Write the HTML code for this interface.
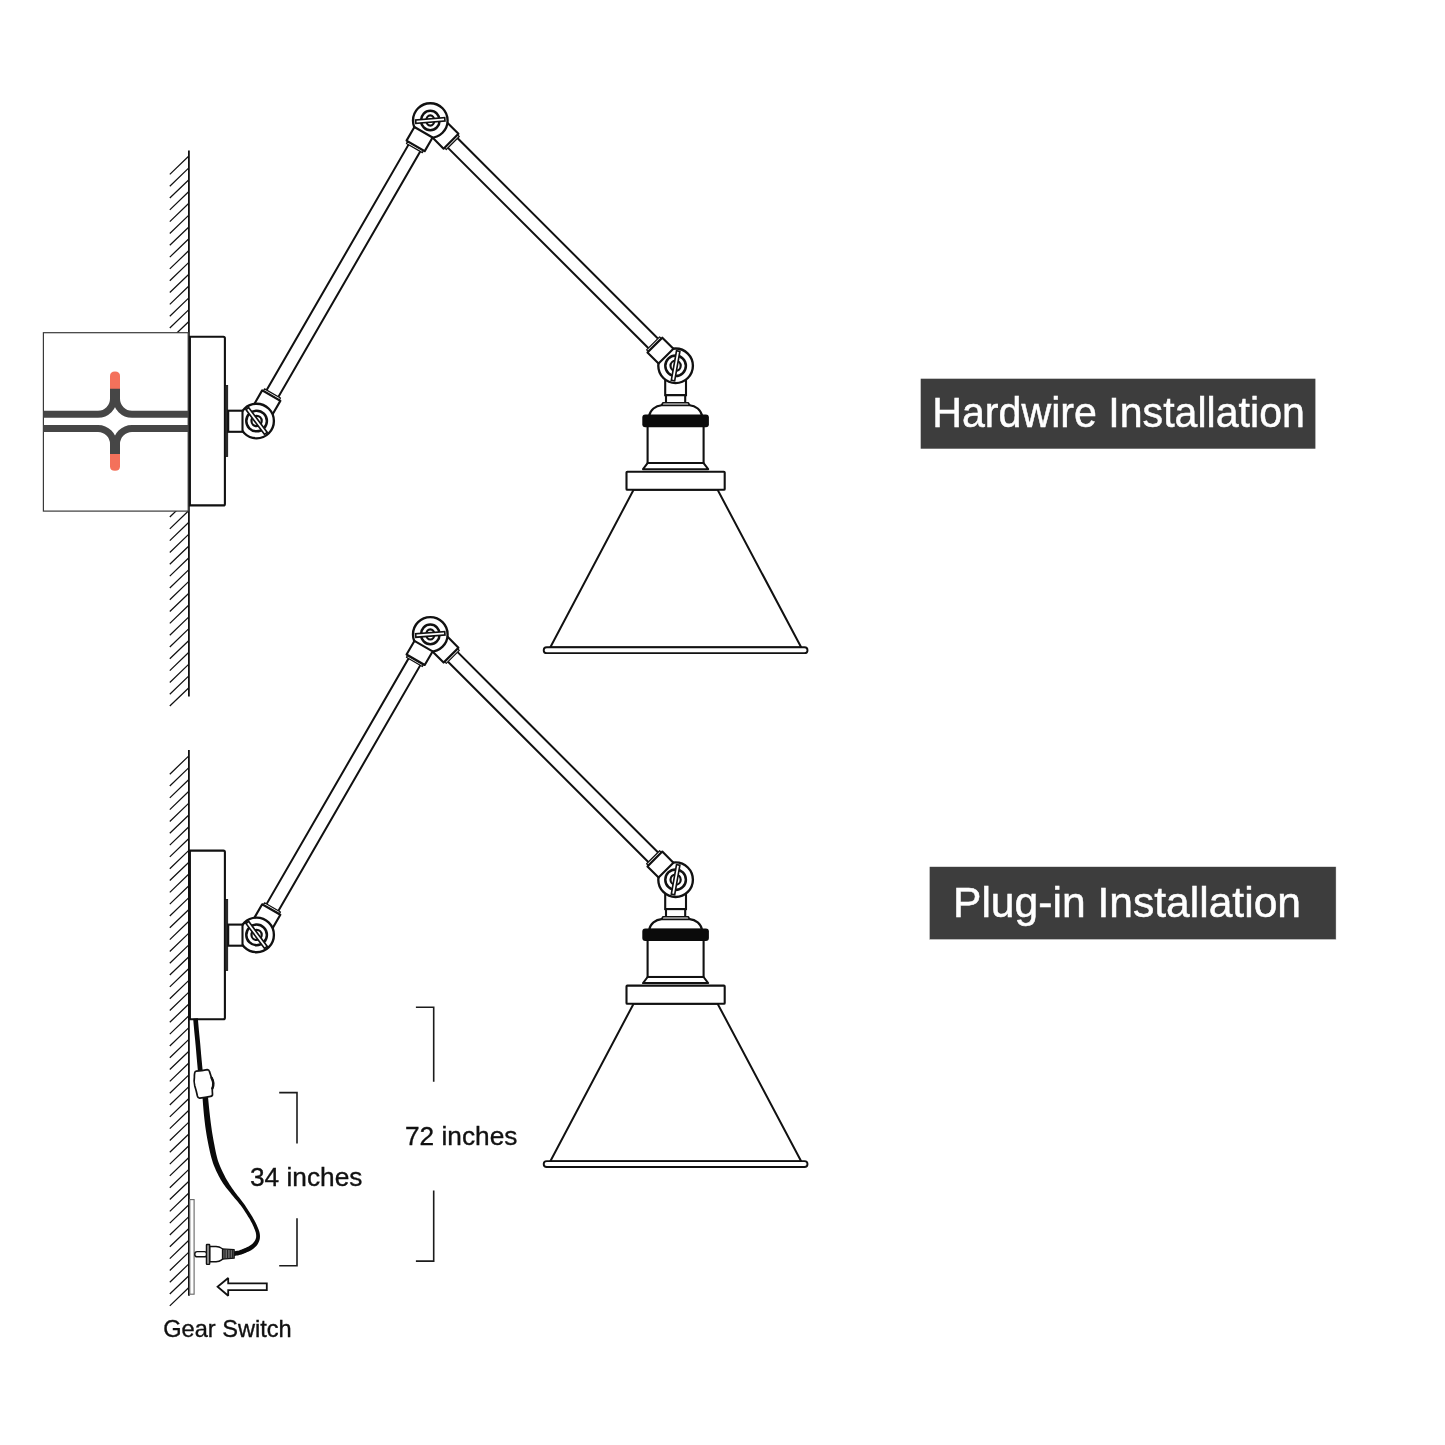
<!DOCTYPE html>
<html lang="en"><head><meta charset="utf-8"><title>Installation diagram</title>
<style>html,body{margin:0;padding:0;background:#fff}body{width:1445px;height:1445px;overflow:hidden}svg{display:block;will-change:transform}text{font-family:"Liberation Sans",sans-serif}</style>
</head><body>
<svg width="1445" height="1445" viewBox="0 0 1445 1445">
<rect width="1445" height="1445" fill="#fff"/>
<g stroke="#111" stroke-linecap="butt">
<path d="M188.6 156.3L169.8 174.4M188.6 168.12L169.8 186.22M188.6 179.93L169.8 198.03M188.6 191.75L169.8 209.84M188.6 203.56L169.8 221.66M188.6 215.38L169.8 233.47M188.6 227.19L169.8 245.29M188.6 239L169.8 257.11M188.6 250.82L169.8 268.92M188.6 262.63L169.8 280.74M188.6 274.45L169.8 292.55M188.6 286.26L169.8 304.37M188.6 298.08L169.8 316.18M188.6 309.89L169.8 328M188.6 321.71L169.8 339.81M188.6 333.52L169.8 351.62M188.6 345.34L169.8 363.44M188.6 357.15L169.8 375.25M188.6 368.97L169.8 387.07M188.6 380.78L169.8 398.88M188.6 392.6L169.8 410.7M188.6 404.41L169.8 422.51M188.6 416.23L169.8 434.33M188.6 428.05L169.8 446.15M188.6 439.86L169.8 457.96M188.6 451.68L169.8 469.78M188.6 463.49L169.8 481.59M188.6 475.31L169.8 493.41M188.6 487.12L169.8 505.22M188.6 498.94L169.8 517.03M188.6 510.75L169.8 528.85M188.6 522.57L169.8 540.67M188.6 534.38L169.8 552.48M188.6 546.19L169.8 564.29M188.6 558.01L169.8 576.11M188.6 569.83L169.8 587.93M188.6 581.64L169.8 599.74M188.6 593.45L169.8 611.55M188.6 605.27L169.8 623.37M188.6 617.09L169.8 635.19M188.6 628.9L169.8 647M188.6 640.71L169.8 658.81M188.6 652.53L169.8 670.63M188.6 664.35L169.8 682.45M188.6 676.16L169.8 694.26M188.6 687.97L169.8 706.07" stroke-width="1.25" fill="none"/>
<line x1="188.9" y1="150.5" x2="188.9" y2="696.4" stroke-width="1.8"/>
</g>
<g stroke="#111" stroke-linecap="butt">
<path d="M188.6 756.1L169.8 774.2M188.6 767.92L169.8 786.02M188.6 779.73L169.8 797.83M188.6 791.55L169.8 809.65M188.6 803.36L169.8 821.46M188.6 815.18L169.8 833.28M188.6 826.99L169.8 845.09M188.6 838.81L169.8 856.91M188.6 850.62L169.8 868.72M188.6 862.44L169.8 880.54M188.6 874.25L169.8 892.35M188.6 886.07L169.8 904.17M188.6 897.88L169.8 915.98M188.6 909.7L169.8 927.8M188.6 921.51L169.8 939.61M188.6 933.33L169.8 951.43M188.6 945.14L169.8 963.24M188.6 956.96L169.8 975.06M188.6 968.77L169.8 986.87M188.6 980.59L169.8 998.69M188.6 992.4L169.8 1010.5M188.6 1004.22L169.8 1022.32M188.6 1016.03L169.8 1034.13M188.6 1027.85L169.8 1045.94M188.6 1039.66L169.8 1057.76M188.6 1051.47L169.8 1069.57M188.6 1063.29L169.8 1081.39M188.6 1075.11L169.8 1093.2M188.6 1086.92L169.8 1105.02M188.6 1098.74L169.8 1116.84M188.6 1110.55L169.8 1128.65M188.6 1122.37L169.8 1140.46M188.6 1134.18L169.8 1152.28M188.6 1145.99L169.8 1164.09M188.6 1157.81L169.8 1175.91M188.6 1169.62L169.8 1187.72M188.6 1181.44L169.8 1199.54M188.6 1193.26L169.8 1211.36M188.6 1205.07L169.8 1223.17M188.6 1216.88L169.8 1234.98M188.6 1228.7L169.8 1246.8M188.6 1240.51L169.8 1258.61M188.6 1252.33L169.8 1270.43M188.6 1264.14L169.8 1282.24M188.6 1275.96L169.8 1294.06M188.6 1287.78L169.8 1305.88" stroke-width="1.25" fill="none"/>
<line x1="188.9" y1="750.1" x2="188.9" y2="1295.7" stroke-width="1.8"/>
</g>
<rect x="43.4" y="332.7" width="144.8" height="178.4" fill="#fff" stroke="#3a3a3a" stroke-width="1.2"/>
<g fill="none" stroke="#464646" stroke-width="7">
<path d="M43.4 414.3H98A15.5 15.5 0 0 0 113.5 398.8V386"/>
<path d="M188 414.3H132A15.5 15.5 0 0 1 116.5 398.8V386"/>
<path d="M43.4 428.4H98A15.5 15.5 0 0 1 113.5 443.9V457"/>
<path d="M188 428.4H132A15.5 15.5 0 0 0 116.5 443.9V457"/>
</g>
<path d="M110 388.8V376Q110 371.5 115 371.5Q120 371.5 120 376V388.8Z" fill="#f4715b"/>
<path d="M110 454.1V466.2Q110 470.7 115 470.7Q120 470.7 120 466.2V454.1Z" fill="#f4715b"/>
<g>
<path d="M189.9 336.7 H223.4 Q224.9 336.7 224.9 338.2 V503.9 Q224.9 505.4 223.4 505.4 H189.9 Z" fill="#fff" stroke="#111" stroke-width="2.1"/>
<rect x="225" y="385.5" width="2.7" height="71" fill="#2b2b2b" stroke="#111" stroke-width="0.8"/>
<polygon points="277.9,397.74 420.77,150.57 409,143.76 266.13,390.93" fill="#fff" stroke="#111" stroke-width="2"/>
<polygon points="447.27,147.09 649.01,348.83 658.63,339.21 456.89,137.47" fill="#fff" stroke="#111" stroke-width="2"/>
<rect x="665.2" y="375" width="20.8" height="20.2" fill="#fff" stroke="#111" stroke-width="2.1"/>
<rect x="666" y="395.2" width="19.2" height="8" fill="#fff" stroke="#111" stroke-width="2.1"/>
<path d="M649.1 416 C650.1 410 655.6 405.6 661.6 405.2 H689.6 C695.6 405.6 701.1 410 702.1 416 Z" fill="#fff" stroke="#111" stroke-width="2.1"/>
<path d="M663 402.8 L661.4 405.3 H689.8 L688.2 402.8 Z" fill="#fff" stroke="#111" stroke-width="1.6" stroke-linejoin="round"/>
<rect x="647.6" y="424" width="56" height="39.1" fill="#fff" stroke="#111" stroke-width="2.1"/>
<path d="M647.6 463.1 L643 469.2 H708.2 L703.6 463.1 Z" fill="#fff" stroke="#111" stroke-width="2" stroke-linejoin="round"/>
<rect x="642.3" y="414.5" width="66.6" height="12.7" rx="3" fill="#0b0b0b"/>
<polygon points="633.6,489.8 717.6,489.8 801.3,647.6 550.2,647.6" fill="#fff" stroke="#111" stroke-width="2"/>
<rect x="626.5" y="471.75" width="98.2" height="18.05" rx="0.8" fill="#fff" stroke="#111" stroke-width="2.1"/>
<rect x="543.7" y="647.2" width="263.8" height="5.9" rx="3" fill="#fff" stroke="#111" stroke-width="1.9"/>
<polygon points="272.5,414.48 280.35,400.89 262.17,390.38 254.32,403.97" fill="#fff" stroke="#111" stroke-width="2.1" stroke-linejoin="round"/>
<polygon points="279.53,399.72 280.48,398.07 264.55,388.86 263.6,390.51" fill="#fff" stroke="#111" stroke-width="1.2" stroke-linejoin="round"/>
<circle cx="256.6" cy="421" r="17.3" fill="#fff" stroke="#111" stroke-width="2.35"/>
<ellipse cx="256.6" cy="421" rx="10.3" ry="10.3" fill="none" stroke="#111" stroke-width="2.5"/>
<ellipse cx="256.6" cy="421" rx="5.1" ry="5.1" fill="none" stroke="#111" stroke-width="2.2"/>
<rect x="241.1" y="419.3" width="31" height="3.4" fill="#fff" stroke="#111" stroke-width="1.65" transform="rotate(53.3 256.6 421)"/>
<rect x="228.2" y="410.7" width="14.3" height="21.1" fill="#fff" stroke="#111" stroke-width="2.1"/>
<polygon points="432.49,137.54 443.59,148.64 458.44,133.79 447.34,122.69" fill="#fff" stroke="#111" stroke-width="2.1" stroke-linejoin="round"/>
<polygon points="444.94,148.15 446.28,149.49 459.29,136.48 457.95,135.14" fill="#fff" stroke="#111" stroke-width="1.2" stroke-linejoin="round"/>
<circle cx="430.3" cy="120.5" r="17.3" fill="#fff" stroke="#111" stroke-width="2.35"/>
<ellipse cx="430.3" cy="120.5" rx="9.3" ry="9.8" fill="none" stroke="#111" stroke-width="2.5"/>
<ellipse cx="430.3" cy="120.5" rx="4" ry="5.1" fill="none" stroke="#111" stroke-width="2.2"/>
<rect x="415.7" y="118.8" width="29.2" height="3.4" fill="#fff" stroke="#111" stroke-width="1.65" transform="rotate(-4.5 430.3 120.5)"/>
<polygon points="414.4,127.02 406.55,140.61 424.73,151.12 432.58,137.53" fill="#fff" stroke="#111" stroke-width="2.1" stroke-linejoin="round"/>
<polygon points="407.37,141.78 406.42,143.43 422.35,152.64 423.3,150.99" fill="#fff" stroke="#111" stroke-width="1.2" stroke-linejoin="round"/>
<circle cx="675.6" cy="365.8" r="17.3" fill="#fff" stroke="#111" stroke-width="2.35"/>
<ellipse cx="675.6" cy="365.8" rx="10.3" ry="10.3" fill="none" stroke="#111" stroke-width="2.5"/>
<ellipse cx="675.6" cy="365.8" rx="5.1" ry="5.1" fill="none" stroke="#111" stroke-width="2.2"/>
<rect x="660.6" y="364.1" width="30" height="3.4" fill="#fff" stroke="#111" stroke-width="1.65" transform="rotate(-80 675.6 365.8)"/>
<polygon points="673.41,348.76 662.31,337.66 647.46,352.51 658.56,363.61" fill="#fff" stroke="#111" stroke-width="2.1" stroke-linejoin="round"/>
<polygon points="660.96,338.15 659.62,336.81 646.61,349.82 647.95,351.16" fill="#fff" stroke="#111" stroke-width="1.2" stroke-linejoin="round"/>
</g>
<g>
<path d="M189.9 850.6 H223.4 Q224.9 850.6 224.9 852.1 V1017.8 Q224.9 1019.3 223.4 1019.3 H189.9 Z" fill="#fff" stroke="#111" stroke-width="2.1"/>
<rect x="225" y="899.4" width="2.7" height="71" fill="#2b2b2b" stroke="#111" stroke-width="0.8"/>
<polygon points="277.9,911.64 420.77,664.47 409,657.66 266.13,904.83" fill="#fff" stroke="#111" stroke-width="2"/>
<polygon points="447.27,660.99 649.01,862.73 658.63,853.11 456.89,651.37" fill="#fff" stroke="#111" stroke-width="2"/>
<rect x="665.2" y="888.9" width="20.8" height="20.2" fill="#fff" stroke="#111" stroke-width="2.1"/>
<rect x="666" y="909.1" width="19.2" height="8" fill="#fff" stroke="#111" stroke-width="2.1"/>
<path d="M649.1 929.9 C650.1 923.9 655.6 919.5 661.6 919.1 H689.6 C695.6 919.5 701.1 923.9 702.1 929.9 Z" fill="#fff" stroke="#111" stroke-width="2.1"/>
<path d="M663 916.7 L661.4 919.2 H689.8 L688.2 916.7 Z" fill="#fff" stroke="#111" stroke-width="1.6" stroke-linejoin="round"/>
<rect x="647.6" y="937.9" width="56" height="39.1" fill="#fff" stroke="#111" stroke-width="2.1"/>
<path d="M647.6 977 L643 983.1 H708.2 L703.6 977 Z" fill="#fff" stroke="#111" stroke-width="2" stroke-linejoin="round"/>
<rect x="642.3" y="928.4" width="66.6" height="12.7" rx="3" fill="#0b0b0b"/>
<polygon points="633.6,1003.7 717.6,1003.7 801.3,1161.5 550.2,1161.5" fill="#fff" stroke="#111" stroke-width="2"/>
<rect x="626.5" y="985.65" width="98.2" height="18.05" rx="0.8" fill="#fff" stroke="#111" stroke-width="2.1"/>
<rect x="543.7" y="1161.1" width="263.8" height="5.9" rx="3" fill="#fff" stroke="#111" stroke-width="1.9"/>
<polygon points="272.5,928.38 280.35,914.79 262.17,904.28 254.32,917.87" fill="#fff" stroke="#111" stroke-width="2.1" stroke-linejoin="round"/>
<polygon points="279.53,913.62 280.48,911.97 264.55,902.76 263.6,904.41" fill="#fff" stroke="#111" stroke-width="1.2" stroke-linejoin="round"/>
<circle cx="256.6" cy="934.9" r="17.3" fill="#fff" stroke="#111" stroke-width="2.35"/>
<ellipse cx="256.6" cy="934.9" rx="10.3" ry="10.3" fill="none" stroke="#111" stroke-width="2.5"/>
<ellipse cx="256.6" cy="934.9" rx="5.1" ry="5.1" fill="none" stroke="#111" stroke-width="2.2"/>
<rect x="241.1" y="933.2" width="31" height="3.4" fill="#fff" stroke="#111" stroke-width="1.65" transform="rotate(53.3 256.6 934.9)"/>
<rect x="228.2" y="924.6" width="14.3" height="21.1" fill="#fff" stroke="#111" stroke-width="2.1"/>
<polygon points="432.49,651.44 443.59,662.54 458.44,647.69 447.34,636.59" fill="#fff" stroke="#111" stroke-width="2.1" stroke-linejoin="round"/>
<polygon points="444.94,662.05 446.28,663.39 459.29,650.38 457.95,649.04" fill="#fff" stroke="#111" stroke-width="1.2" stroke-linejoin="round"/>
<circle cx="430.3" cy="634.4" r="17.3" fill="#fff" stroke="#111" stroke-width="2.35"/>
<ellipse cx="430.3" cy="634.4" rx="9.3" ry="9.8" fill="none" stroke="#111" stroke-width="2.5"/>
<ellipse cx="430.3" cy="634.4" rx="4" ry="5.1" fill="none" stroke="#111" stroke-width="2.2"/>
<rect x="415.7" y="632.7" width="29.2" height="3.4" fill="#fff" stroke="#111" stroke-width="1.65" transform="rotate(-4.5 430.3 634.4)"/>
<polygon points="414.4,640.92 406.55,654.51 424.73,665.02 432.58,651.43" fill="#fff" stroke="#111" stroke-width="2.1" stroke-linejoin="round"/>
<polygon points="407.37,655.68 406.42,657.33 422.35,666.54 423.3,664.89" fill="#fff" stroke="#111" stroke-width="1.2" stroke-linejoin="round"/>
<circle cx="675.6" cy="879.7" r="17.3" fill="#fff" stroke="#111" stroke-width="2.35"/>
<ellipse cx="675.6" cy="879.7" rx="10.3" ry="10.3" fill="none" stroke="#111" stroke-width="2.5"/>
<ellipse cx="675.6" cy="879.7" rx="5.1" ry="5.1" fill="none" stroke="#111" stroke-width="2.2"/>
<rect x="660.6" y="878" width="30" height="3.4" fill="#fff" stroke="#111" stroke-width="1.65" transform="rotate(-80 675.6 879.7)"/>
<polygon points="673.41,862.66 662.31,851.56 647.46,866.41 658.56,877.51" fill="#fff" stroke="#111" stroke-width="2.1" stroke-linejoin="round"/>
<polygon points="660.96,852.05 659.62,850.71 646.61,863.72 647.95,865.06" fill="#fff" stroke="#111" stroke-width="1.2" stroke-linejoin="round"/>
</g>
<rect x="189.8" y="1199.6" width="4.3" height="94.6" fill="#fff" stroke="#666" stroke-width="1.1"/>
<path d="M193.16 1018.7L193.28 1020.07L193.44 1021.95L193.63 1024.19L193.84 1026.6L194.06 1029L194.26 1031.22L194.46 1033.26L194.65 1035.26L194.86 1037.25L195.06 1039.26L195.26 1041.3L195.46 1043.42L195.66 1045.6L195.85 1047.84L196.05 1050.12L196.25 1052.45L196.45 1054.82L196.66 1057.21L196.89 1059.82L197.15 1062.69L197.41 1065.58L197.65 1068.29L197.86 1070.58L198.01 1072.22L202.79 1071.78L202.63 1070.13L202.4 1067.84L202.14 1065.14L201.86 1062.25L201.58 1059.39L201.34 1056.79L201.13 1054.41L200.92 1052.05L200.73 1049.73L200.53 1047.44L200.34 1045.19L200.14 1042.98L199.94 1040.85L199.73 1038.79L199.53 1036.78L199.33 1034.8L199.13 1032.8L198.94 1030.78L198.74 1028.58L198.53 1026.19L198.32 1023.78L198.12 1021.55L197.96 1019.66L197.84 1018.3Z" fill="#0a0a0a"/>
<path d="M202.46 1096.74L202.59 1098.42L202.76 1100.74L202.96 1103.5L203.2 1106.5L203.45 1109.53L203.72 1112.4L203.99 1115.13L204.28 1117.91L204.59 1120.73L204.92 1123.56L205.29 1126.4L205.68 1129.23L206.11 1132.05L206.58 1134.9L207.07 1137.74L207.58 1140.55L208.11 1143.3L208.66 1145.97L209.21 1148.57L209.77 1151.14L210.35 1153.67L210.96 1156.13L211.6 1158.52L212.27 1160.8L212.96 1162.93L213.68 1164.92L214.42 1166.8L215.19 1168.62L215.99 1170.42L216.85 1172.24L217.76 1174.11L218.71 1175.97L219.7 1177.83L220.76 1179.7L221.88 1181.56L223.09 1183.43L224.38 1185.3L225.76 1187.14L227.2 1188.97L228.66 1190.79L230.14 1192.6L231.62 1194.42L233.13 1196.28L234.71 1198.15L236.29 1200L237.83 1201.84L239.3 1203.63L240.65 1205.37L241.91 1207.1L243.13 1208.85L244.28 1210.59L245.37 1212.27L246.38 1213.86L247.32 1215.34L248.16 1216.64L248.88 1217.81L249.53 1218.87L250.12 1219.87L250.69 1220.88L251.26 1221.92L251.82 1223.01L252.36 1224.12L252.88 1225.22L253.36 1226.31L253.82 1227.37L254.24 1228.39L254.63 1229.37L255 1230.31L255.33 1231.19L255.6 1232.02L255.82 1232.82L255.98 1233.63L256.09 1234.46L256.16 1235.3L256.18 1236.11L256.15 1236.89L256.06 1237.64L255.9 1238.35L255.67 1239.05L255.37 1239.77L255 1240.48L254.57 1241.17L254.1 1241.84L253.61 1242.47L253.08 1243.06L252.5 1243.63L251.85 1244.19L251.15 1244.74L250.42 1245.27L249.67 1245.77L248.91 1246.22L248.1 1246.65L247.24 1247.07L246.34 1247.48L245.4 1247.89L244.47 1248.3L243.55 1248.7L242.66 1249.09L241.78 1249.46L240.92 1249.8L240.05 1250.11L239.18 1250.38L238.21 1250.63L237.08 1250.86L235.91 1251.07L234.79 1251.26L233.82 1251.41L233.11 1251.53L233.89 1256.07L234.57 1255.95L235.53 1255.8L236.69 1255.6L237.95 1255.38L239.23 1255.11L240.42 1254.82L241.5 1254.48L242.53 1254.12L243.52 1253.73L244.48 1253.33L245.41 1252.92L246.33 1252.5L247.27 1252.08L248.23 1251.65L249.21 1251.19L250.2 1250.68L251.19 1250.13L252.13 1249.53L253.02 1248.9L253.88 1248.25L254.72 1247.54L255.53 1246.79L256.29 1245.99L256.99 1245.13L257.61 1244.23L258.16 1243.3L258.65 1242.33L259.08 1241.33L259.43 1240.3L259.7 1239.25L259.87 1238.19L259.96 1237.12L259.97 1236.06L259.9 1235.02L259.79 1234L259.62 1232.97L259.39 1231.94L259.1 1230.94L258.76 1229.95L258.38 1228.98L257.98 1228.01L257.56 1227.01L257.11 1225.95L256.61 1224.85L256.09 1223.72L255.53 1222.57L254.95 1221.42L254.34 1220.28L253.74 1219.18L253.14 1218.13L252.52 1217.07L251.85 1215.97L251.11 1214.78L250.28 1213.46L249.35 1211.99L248.33 1210.38L247.23 1208.66L246.07 1206.88L244.84 1205.06L243.55 1203.23L242.17 1201.39L240.69 1199.51L239.18 1197.62L237.66 1195.73L236.18 1193.85L234.78 1191.98L233.44 1190.1L232.11 1188.2L230.83 1186.31L229.59 1184.44L228.42 1182.59L227.31 1180.77L226.27 1178.96L225.29 1177.16L224.35 1175.37L223.45 1173.57L222.58 1171.77L221.75 1169.96L220.94 1168.18L220.19 1166.45L219.47 1164.75L218.8 1163.01L218.15 1161.18L217.53 1159.2L216.94 1157.07L216.39 1154.8L215.86 1152.42L215.35 1149.95L214.85 1147.41L214.34 1144.83L213.84 1142.2L213.34 1139.49L212.86 1136.72L212.39 1133.93L211.94 1131.14L211.52 1128.37L211.13 1125.62L210.77 1122.84L210.42 1120.05L210.1 1117.27L209.79 1114.51L209.48 1111.8L209.18 1108.98L208.88 1105.98L208.59 1103.01L208.32 1100.27L208.1 1097.95L207.94 1096.26Z" fill="#0a0a0a"/>
<path d="M196.3 1071.2 Q202 1070.6 207.2 1069.6 Q209 1069.5 209.5 1071.6 Q210.6 1074.8 211.4 1077.4 Q214.6 1083 212.3 1088.6 Q212.2 1091.4 212.5 1094.2 Q212.6 1096 210.6 1096.4 Q205 1097.4 199.8 1098.2 Q198 1098.4 197.4 1096 Q196.4 1091 194.8 1086 Q193.6 1081.6 194.4 1077 Q194.3 1074.8 194.7 1072.8 Q195 1071.4 196.3 1071.2Z" fill="#fff" stroke="#111" stroke-width="1.7" stroke-linejoin="round"/>
<path d="M211.6 1077.8 Q214.6 1083 212.4 1088.4" fill="none" stroke="#111" stroke-width="2.5" stroke-linecap="round"/>
<g stroke="#111" stroke-linejoin="round">
<rect x="194.8" y="1251.6" width="12" height="5.2" rx="2.4" fill="#fff" stroke-width="1.4"/>
<path d="M222 1248.9 L234.2 1249.7 V1258.2 L222 1259.2 Z" fill="#6a6a6a" stroke-width="1.2"/>
<path d="M225 1249.6V1258.6M227.6 1249.8V1258.4M230.2 1250V1258.3M232.6 1250.1V1258.2" fill="none" stroke="#222" stroke-width="1.1"/>
<path d="M209.6 1246.4 H216 Q219.5 1246.6 221.2 1248 L222.6 1249 V1259.2 L221.2 1260.2 Q219.5 1261.6 216 1261.8 H209.6 Z" fill="#fff" stroke-width="1.5"/>
<rect x="206.4" y="1244.5" width="3.3" height="19.9" rx="0.6" fill="#8a8a8a" stroke-width="1.3"/>
</g>
<path d="M217.6 1286.8 L228.2 1278 V1283.4 H266.8 V1290.2 H228.2 V1295.8 Z" fill="#fff" stroke="#111" stroke-width="1.8" stroke-linejoin="miter" stroke-miterlimit="2.2"/>
<g fill="none" stroke="#1c1c1c" stroke-width="1.6">
<path d="M279.2 1092.6H297V1143.6"/>
<path d="M297 1218.2V1265.8H279.2"/>
<path d="M415.9 1007.3H433.7V1081.8"/>
<path d="M433.7 1190.5V1261.1H415.9"/>
</g>
<g fill="#111" stroke="#111" stroke-width="0.35">
<text x="250" y="1186.3" font-size="26.25">34 inches</text>
<text x="405" y="1144.9" font-size="26.25">72 inches</text>
<text x="163.2" y="1336.9" font-size="23.6">Gear Switch</text>
</g>
<rect x="920.7" y="378.7" width="394.7" height="70" fill="#3d3d3d"/>
<g fill="#fff" stroke="#fff" stroke-width="0.5">
<text x="932.3" y="427.3" font-size="43" textLength="372.6" lengthAdjust="spacingAndGlyphs">Hardwire Installation</text>
<rect x="929.3" y="866.6" width="406.8" height="73.1" fill="#3d3d3d"/>
<text x="953" y="917.4" font-size="43" textLength="348" lengthAdjust="spacingAndGlyphs">Plug-in Installation</text>
</g>
</svg>
</body></html>
